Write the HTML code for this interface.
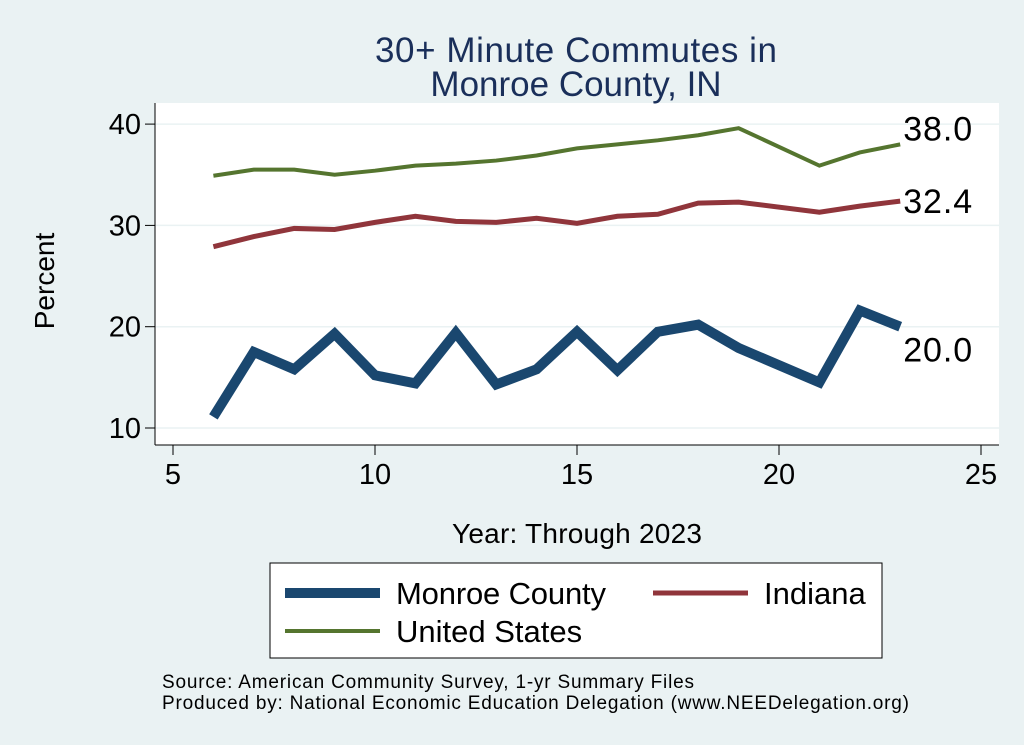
<!DOCTYPE html>
<html><head><meta charset="utf-8"><style>
body{margin:0;background:#eaf2f3;}
svg{display:block;font-family:"Liberation Sans",Arial,sans-serif;}
</style></head><body>
<svg id="chart" width="1024" height="745">
<rect x="0" y="0" width="1024" height="745" fill="#eaf2f3"/>
<rect x="155" y="103" width="844" height="342" fill="#ffffff"/>
<text x="576" y="62" text-anchor="middle" font-size="35" textLength="402" fill="#1a2f5a">30+ Minute Commutes in</text>
<text x="576" y="96" text-anchor="middle" font-size="35" fill="#1a2f5a">Monroe County, IN</text>
<g id="grid"></g><g id="axes"></g><g id="series"></g>
<text x="577" y="543" text-anchor="middle" font-size="28" textLength="250" fill="#000">Year: Through 2023</text>
<text transform="translate(54,281) rotate(-90)" text-anchor="middle" font-size="28" fill="#000">Percent</text>
<g>
<rect x="270" y="563" width="612" height="95" fill="#fff" stroke="#000" stroke-width="1"/>
<line x1="285" y1="593" x2="380" y2="593" stroke="#1a476f" stroke-width="10"/>
<text x="396" y="604" font-size="31" textLength="210">Monroe County</text>
<line x1="653" y1="593" x2="748" y2="593" stroke="#90353b" stroke-width="5"/>
<text x="764" y="604" font-size="31">Indiana</text>
<line x1="285" y1="631" x2="380" y2="631" stroke="#55752f" stroke-width="4"/>
<text x="396" y="642" font-size="31">United States</text>
</g>
<text x="162" y="688" font-size="19" textLength="532">Source: American Community Survey, 1-yr Summary Files</text>
<text x="162" y="709" font-size="19" textLength="747">Produced by: National Economic Education Delegation (www.NEEDelegation.org)</text>
</svg>
<script>
const years=[6,7,8,9,10,11,12,13,14,15,16,17,18,19,21,22,23];
const monroe=[11.1,17.5,15.8,19.3,15.2,14.4,19.4,14.3,15.8,19.5,15.7,19.5,20.2,17.9,14.5,21.6,20.0];
const indiana=[27.9,28.9,29.7,29.6,30.3,30.9,30.4,30.3,30.7,30.2,30.9,31.1,32.2,32.3,31.3,31.9,32.4];
const us=[34.9,35.5,35.5,35.0,35.4,35.9,36.1,36.4,36.9,37.6,38.0,38.4,38.9,39.6,35.9,37.2,38.0];
const xTicks=[5,10,15,20,25];
const yTicks=[10,20,30,40];
const NS="http://www.w3.org/2000/svg";
const xs=v=>173+(v-5)*40.4;
const ys=v=>428-(v-10)*10.13;
function mk(tag,attrs,parent){const e=document.createElementNS(NS,tag);for(const k in attrs)e.setAttribute(k,attrs[k]);parent.appendChild(e);return e;}
const grid=document.getElementById('grid'),axes=document.getElementById('axes'),ser=document.getElementById('series');
mk('line',{x1:155,y1:445,x2:999,y2:445,stroke:'#000','stroke-width':1},axes);
mk('line',{x1:155,y1:103,x2:155,y2:445,stroke:'#000','stroke-width':1},axes);
yTicks.forEach(t=>{
 const g=mk('line',{x1:155,x2:999,y1:ys(t),y2:ys(t),stroke:'#eaf2f3','stroke-width':1.5},grid);
 
 
 mk('line',{x1:145,x2:155,y1:ys(t),y2:ys(t),stroke:'#000'},axes);
 const tx=mk('text',{x:141,y:ys(t)+10,'text-anchor':'end','font-size':29},axes);
 tx.textContent=t;
 
 
});
xTicks.forEach(t=>{
 mk('line',{x1:xs(t),x2:xs(t),y1:445,y2:455,stroke:'#000'},axes);
 const tx=mk('text',{x:xs(t),y:484,'text-anchor':'middle','font-size':29},axes);
 tx.textContent=t;
 
 
});
function line(vals,color,w,name,dy){
 const p=mk('polyline',{points:years.map((y,i)=>xs(y)+','+ys(vals[i])).join(' '),fill:'none',stroke:color,'stroke-width':w,'stroke-linejoin':'miter'},ser);
 
 
 const last=vals[vals.length-1];
 const t=mk('text',{x:xs(years[years.length-1])+3,y:ys(last)+dy,'font-size':34,textLength:69},ser);
 t.textContent=last.toFixed(1);
 
 
}
line(us,'#55752f',4,'line-us',-4);
line(indiana,'#90353b',5,'line-indiana',12);
line(monroe,'#1a476f',10,'line-monroe',35);
</script>
</body></html>
